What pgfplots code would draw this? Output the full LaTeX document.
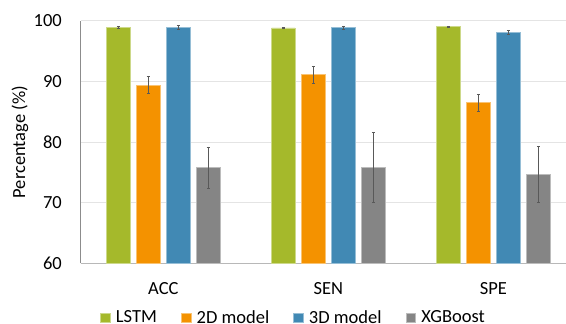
\documentclass[border=0pt]{standalone}
\usepackage{pgfplots}
\pgfplotsset{compat=1.18}
\usepackage{fontspec}
\setmainfont{Carlito}
\definecolor{cgreen}{HTML}{A5B92B}
\definecolor{corange}{HTML}{F49200}
\definecolor{cblue}{HTML}{4189B4}
\definecolor{cgray}{HTML}{858585}
\definecolor{cgrid}{HTML}{E4E4E4}
\definecolor{cerr}{HTML}{595959}
\begin{document}
\begin{tikzpicture}
\path[use as bounding box] (0,0) rectangle (566pt,324pt);
\begin{axis}[
  at={(80.8pt,60.5pt)}, anchor=south west,
  scale only axis, width=485.2pt, height=242.8pt,
  font=\fontsize{18.5}{22}\selectfont,
  /pgf/number format/assume math mode=true,
  ybar=6.7pt, bar width=23.3pt,
  xmin=-0.5, xmax=2.44, ymin=60, ymax=100,
  ytick={60,70,80,90,100},
  xtick=data, xticklabels={ACC,SEN,SPE},
  major tick length=0pt,
  axis lines*=left,
  x axis line style={draw=black!28, line width=1.6pt},
  y axis line style={draw=black!45, line width=0.7pt},
  ymajorgrids, grid style={cgrid, line width=0.8pt},
  yticklabel style={anchor=east, inner sep=0pt, xshift=-18.8pt},
  xticklabel style={anchor=base, inner sep=0pt, yshift=-31.5pt},
  ylabel={Percentage (\%)},
  ylabel style={at={(axis description cs:-0.1253,0.5)}, anchor=center, inner sep=0pt},
  error bars/y dir=both, error bars/y explicit,
  error bars/error bar style={cerr, line width=0.7pt},
  error bars/error mark options={rotate=90, mark size=1.6pt, cerr, line width=0.7pt},
  legend style={draw=none, fill=none, at={(axis description cs:0.4364,-0.2232)}, anchor=center,
    legend columns=4, nodes={inner sep=0pt, anchor=west},
    /tikz/every odd column/.append style={column sep=5.5pt},
    /tikz/every even column/.append style={column sep=24pt}},
  legend image code/.code={\fill[#1] (0pt,-4.8pt) rectangle (9.6pt,4.8pt);},
]
\addplot[fill=cgreen, draw=cgreen!55!white, line width=0.6pt] coordinates {(0,98.9) +- (0,0.15) (1,98.8) +- (0,0.1) (2,99.0) +- (0,0.1)};
\addplot[fill=corange, draw=corange!55!white, line width=0.6pt] coordinates {(0,89.4) +- (0,1.35) (1,91.1) +- (0,1.4) (2,86.5) +- (0,1.4)};
\addplot[fill=cblue, draw=cblue!55!white, line width=0.6pt] coordinates {(0,98.9) +- (0,0.3) (1,98.85) +- (0,0.3) (2,98.1) +- (0,0.3)};
\addplot[fill=cgray, draw=cgray!55!white, line width=0.6pt] coordinates {(0,75.8) +- (0,3.4) (1,75.85) +- (0,5.75) (2,74.7) +- (0,4.6)};
\legend{LSTM,2D model,3D model,XGBoost}
\end{axis}
\end{tikzpicture}
\end{document}
